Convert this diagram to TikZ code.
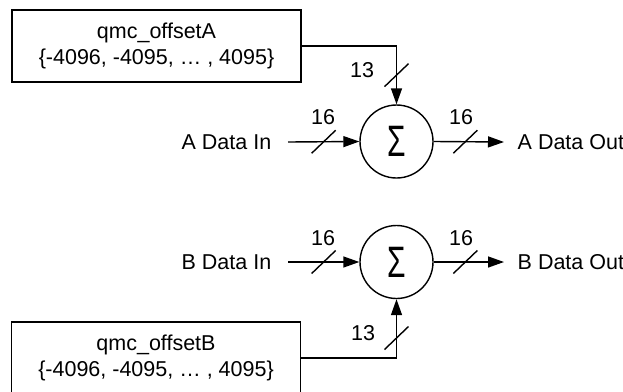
\documentclass[tikz,border=0pt]{standalone}
\usepackage{fontspec}
\setmainfont{Liberation Sans}
\usetikzlibrary{arrows.meta,calc}
\begin{document}
\begin{tikzpicture}[x=1pt,y=-1pt, line width=1.4pt,
  lbl/.style={font=\fontsize{21.5}{24}\selectfont, inner sep=0pt},
  srcbox/.style={draw, minimum width=289pt, minimum height=72pt, inner sep=0pt,
     align=center, font=\fontsize{21.5}{26.5}\selectfont},
  sumnode/.style={draw, circle, minimum size=73pt, inner sep=0pt},
  sigma/.style={font=\fontsize{44}{44}\selectfont, inner sep=0pt},
  arr/.style={-{Triangle[length=16pt,width=11pt]}},
  slash/.style={line width=1.4pt}]
\useasboundingbox (0,0) rectangle (623,391);
\clip (0,0) rectangle (623,391);

% A path
\node[srcbox] (boxA) at (156.5,46) {qmc\_offsetA\\\{-4096, -4095, … , 4095\}};
\node[sumnode] (sumA) at (396.5,141.5) {};
\node[sigma] (sgA) at (sumA.center) {\scalebox{0.68}[1]{Σ}};
\node[lbl, anchor=east] (inA) at (272,142) {A Data In};
\node[lbl, anchor=west] (outA) at (517,142) {A Data Out};
\draw[arr] ([xshift=16pt]inA.east) -- coordinate[pos=0.5] (sA1) (sumA.west);
\draw[arr] (sumA.east) -- coordinate[pos=0.45] (sA2) ([xshift=-13pt]outA.west);
\draw[arr] (boxA.east) -| coordinate[pos=0.75] (sA3) (sumA.north);
\draw[slash] ($(sA1)+(-12,11.5)$) -- ($(sA1)+(12,-11.5)$);
\draw[slash] ($(sA2)+(-12,11.5)$) -- ($(sA2)+(12,-11.5)$);
\draw[slash] ($(sA3)+(-12,11.5)$) -- ($(sA3)+(12,-11.5)$);
\node[lbl] (nA1) at (323,117) {16};
\node[lbl] (nA2) at (461,117) {16};
\node[lbl] (nA3) at (362,70) {13};

% B path
\node[srcbox] (boxB) at (156,358) {qmc\_offsetB\\\{-4096, -4095, … , 4095\}};
\node[sumnode] (sumB) at (396.5,262) {};
\node[sigma] (sgB) at (sumB.center) {\scalebox{0.68}[1]{Σ}};
\node[lbl, anchor=east] (inB) at (272,262) {B Data In};
\node[lbl, anchor=west] (outB) at (517,262) {B Data Out};
\draw[arr] ([xshift=16pt]inB.east) -- coordinate[pos=0.5] (sB1) (sumB.west);
\draw[arr] (sumB.east) -- coordinate[pos=0.45] (sB2) ([xshift=-13pt]outB.west);
\draw[arr] (boxB.east) -| coordinate[pos=0.67] (sB3) (sumB.south);
\draw[slash] ($(sB1)+(-12,11.5)$) -- ($(sB1)+(12,-11.5)$);
\draw[slash] ($(sB2)+(-12,11.5)$) -- ($(sB2)+(12,-11.5)$);
\draw[slash] ($(sB3)+(-12,11.5)$) -- ($(sB3)+(12,-11.5)$);
\node[lbl] (nB1) at (323,238) {16};
\node[lbl] (nB2) at (461,238) {16};
\node[lbl] (nB3) at (363,333) {13};
\end{tikzpicture}
\end{document}
